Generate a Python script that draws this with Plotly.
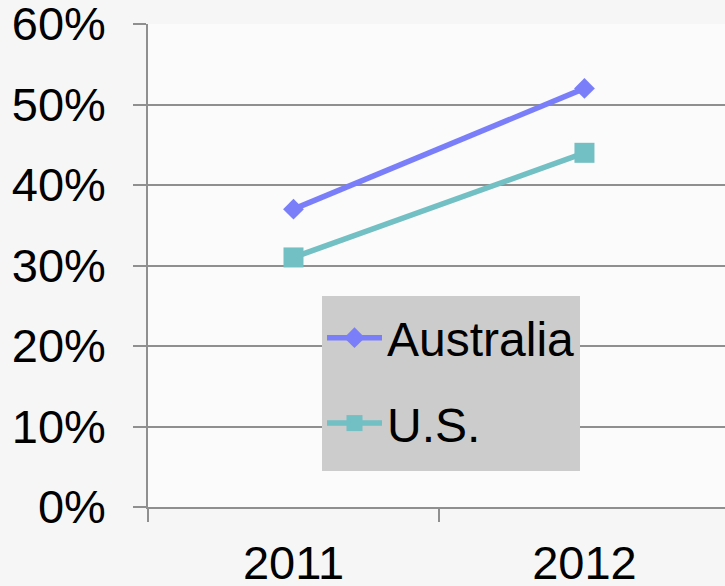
import plotly.graph_objects as go

years = ["2011", "2012"]
australia = [37, 52]
us = [31, 44]
y_ticks = [0, 10, 20, 30, 40, 50, 60]
y_tick_labels = ["0%", "10%", "20%", "30%", "40%", "50%", "60%"]

FONT = "Liberation Sans, Arial, sans-serif"
GRID = "#8f8f8f"
BG = "#f6f6f6"
PL, PT, PW, PH = 148, 24, 577, 483

fig = go.Figure()
fig.add_trace(go.Scatter(
    x=years, y=australia, name="Australia", mode="lines+markers",
    line=dict(color="#7a7ff9", width=5.5),
    marker=dict(symbol="diamond", size=16, color="#7a7ff9"),
    legendgroup="a",
))
fig.add_trace(go.Scatter(
    x=years, y=us, name="U.S.", mode="lines+markers",
    line=dict(color="#72bfc4", width=5.5),
    marker=dict(symbol="square", size=20, color="#72bfc4"),
    legendgroup="b",
))

# legend background box
fig.add_shape(
    type="rect", xref="paper", yref="paper", layer="above",
    x0=(322 - PL) / PW, x1=(580 - PL) / PW,
    y0=(PT + PH - 471) / PH, y1=(PT + PH - 296) / PH,
    fillcolor="#cccccc", line=dict(width=0),
)

fig.update_layout(
    width=725, height=586,
    margin=dict(l=PL, r=0, t=PT, b=586 - PT - PH, autoexpand=False),
    paper_bgcolor=BG,
    plot_bgcolor="rgba(255,255,255,0.6)",
    font=dict(family=FONT, size=47, color="black"),
    showlegend=True,
    legend=dict(
        x=(322 - PL) / PW, y=(PT + PH - 300) / PH,
        xanchor="left", yanchor="top",
        bgcolor="rgba(0,0,0,0)", borderwidth=0,
        font=dict(family=FONT, size=48, color="black"),
        itemwidth=55,
        tracegroupgap=20,
        traceorder="grouped",
    ),
    xaxis=dict(
        type="category", range=[-0.5, 1.483], automargin=False,
        tickson="boundaries", ticks="outside", ticklen=13, tickwidth=1.5, tickcolor=GRID,
        showline=True, linecolor=GRID, linewidth=1.5,
        showgrid=False, ticklabelstandoff=14, ticklabeloverflow="allow",
    ),
    yaxis=dict(
        range=[0, 60], tickvals=y_ticks, ticktext=y_tick_labels, automargin=False,
        ticks="outside", ticklen=13, tickwidth=1.5, tickcolor=GRID,
        showline=True, linecolor=GRID, linewidth=1.5,
        showgrid=True, gridcolor=GRID, gridwidth=1.5,
        zeroline=False, ticklabelstandoff=18, ticklabeloverflow="allow",
    ),
)

fig.write_html(
    "out.html",
    config={"displayModeBar": False},
    post_script="document.body.style.margin='0';document.body.style.background='%s';" % BG,
)
